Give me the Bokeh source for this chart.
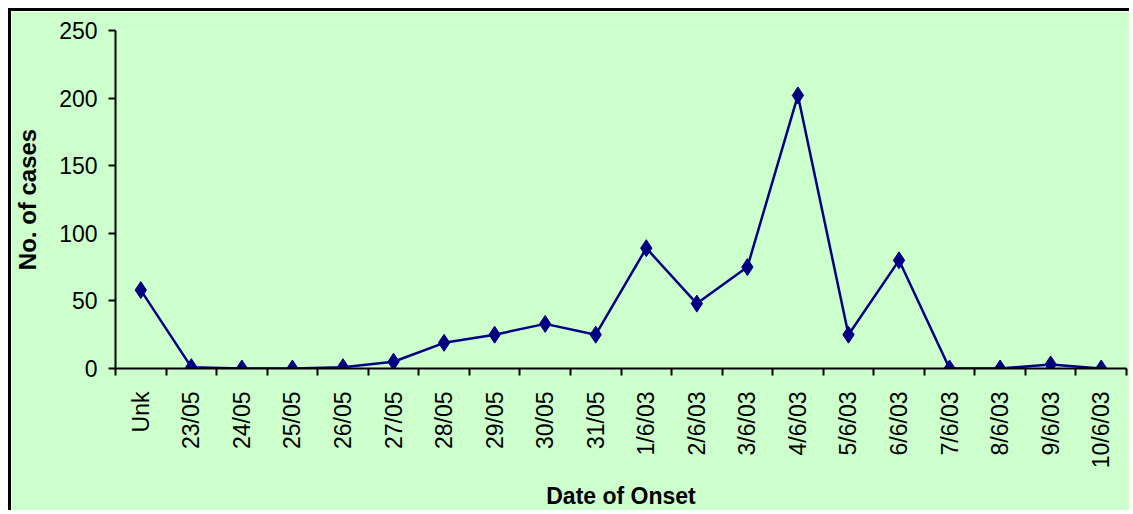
import math
from bokeh.plotting import figure
from bokeh.models import Range1d, FixedTicker, CustomJSTickFormatter, ColumnDataSource
from bokeh.embed import file_html
from bokeh.resources import INLINE

categories = ["Unk", "23/05", "24/05", "25/05", "26/05", "27/05", "28/05", "29/05",
              "30/05", "31/05", "1/6/03", "2/6/03", "3/6/03", "4/6/03", "5/6/03",
              "6/6/03", "7/6/03", "8/6/03", "9/6/03", "10/6/03"]
cases = [58, 1, 0, 0, 1, 5, 19, 25, 33, 25, 89, 48, 75, 202, 25, 80, 0, 0, 3, 0]
y_ticks = [0, 50, 100, 150, 200, 250]

n = len(categories)
xs = [i + 0.5 for i in range(n)]
src = ColumnDataSource(dict(x=xs, y=cases, cat=categories))

BG = "#CCFFCC"
NAVY = "#000080"
FONT = "Liberation Sans"

p = figure(width=1121, height=502, output_backend="svg", toolbar_location=None,
           x_range=Range1d(0, n), y_range=Range1d(0, 250),
           min_border_left=104, min_border_right=6, min_border_top=19, min_border_bottom=145)
p.styles = {"margin-left": "8px", "margin-top": "8px",
            "border-top": "3px solid black", "border-left": "3px solid black"}
p.background_fill_color = BG
p.border_fill_color = BG
p.outline_line_color = None
p.xgrid.visible = False
p.ygrid.visible = False

p.line("x", "y", source=src, line_color=NAVY, line_width=2.5)
p.scatter("x", "y", source=src, marker="diamond", size=17, fill_color=NAVY, line_color=NAVY)

# x axis
xa = p.xaxis[0]
xa.ticker = FixedTicker(ticks=xs, minor_ticks=list(range(n + 1)))
xa.formatter = CustomJSTickFormatter(args=dict(labels=categories),
                                     code="const i = Math.round(tick - 0.5); return (i >= 0 && i < labels.length) ? labels[i] : '';")
xa.major_label_orientation = math.pi / 2
xa.major_tick_line_color = None
xa.minor_tick_line_color = "black"
xa.minor_tick_line_width = 2
xa.minor_tick_out = 7
xa.minor_tick_in = 0
xa.axis_line_color = "black"
xa.axis_line_width = 2
xa.major_label_text_font = FONT
xa.major_label_text_font_size = "23px"
xa.major_label_text_color = "black"
xa.major_label_standoff = 16
xa.axis_label = "Date of Onset"
xa.axis_label_text_font = FONT
xa.axis_label_text_font_style = "bold"
xa.axis_label_text_font_size = "23px"
xa.axis_label_text_color = "black"
xa.axis_label_standoff = 12

# y axis
ya = p.yaxis[0]
ya.ticker = FixedTicker(ticks=y_ticks)
ya.axis_line_color = "black"
ya.axis_line_width = 2
ya.major_tick_line_color = "black"
ya.major_tick_line_width = 2
ya.major_tick_out = 7
ya.major_tick_in = 0
ya.minor_tick_line_color = None
ya.major_label_text_font = FONT
ya.major_label_text_font_size = "23px"
ya.major_label_text_color = "black"
ya.major_label_standoff = 11
ya.axis_label = "No. of cases"
ya.axis_label_text_font = FONT
ya.axis_label_text_font_style = "bold"
ya.axis_label_text_font_size = "24px"
ya.axis_label_text_color = "black"
ya.axis_label_standoff = 15

open("out.html", "w").write(file_html(p, INLINE))
